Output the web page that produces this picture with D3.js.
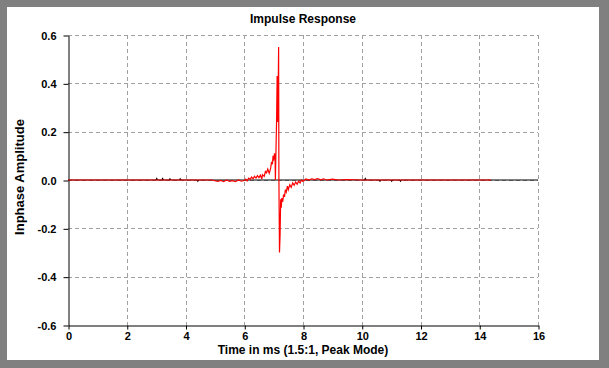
<!DOCTYPE html>
<html>
<head>
<meta charset="utf-8">
<script src="https://cdn.jsdelivr.net/npm/d3@7"></script>
<style>
  body { margin: 0; background: #808080; }
  svg { display: block; font-family: "Liberation Sans", Arial, sans-serif; }
</style>
</head>
<body>
<script>
// axis ticks
var xTicks = [0, 2, 4, 6, 8, 10, 12, 14, 16];
var yTicks = [-0.6, -0.4, -0.2, 0.0, 0.2, 0.4, 0.6];

// red trace (peak mode), time in ms / amplitude
var redTime = [0, 4.9, 5.0, 5.1, 5.2, 5.3, 5.4, 5.5, 5.6, 5.7, 5.8, 5.9, 6.0, 6.05, 6.1, 6.15, 6.2, 6.25, 6.3, 6.35,
  6.4, 6.45, 6.5, 6.55, 6.6, 6.62, 6.68, 6.72, 6.76, 6.8, 6.85, 6.88, 6.9, 6.93, 6.96, 6.98, 7.0, 7.03, 7.05,
  7.06, 7.08, 7.1, 7.12, 7.14, 7.16, 7.17, 7.18, 7.2, 7.22, 7.24, 7.26, 7.28, 7.31, 7.34, 7.37, 7.4, 7.43,
  7.47, 7.5, 7.55, 7.6, 7.65, 7.7, 7.75, 7.8, 7.85, 7.9, 7.95, 8.0, 8.1, 8.2, 8.3, 8.4, 8.5, 8.6, 8.7, 8.8,
  9.0, 9.2, 9.5, 10.0, 14.4];
var redAmp = [0, 0, -0.003, -0.006, -0.002, -0.007, 0.0, -0.006, -0.003, -0.007, 0.0, -0.005, -0.002, 0.004, -0.004, 0.008, 0.003, 0.012, 0.005, 0.015,
  0.008, 0.018, 0.01, 0.02, 0.004, 0.022, 0.015, 0.035, 0.03, 0.045, 0.028, 0.04, 0.05, 0.075, 0.065, 0.1, 0.08, 0.11, 0.09,
  0.0, 0.12, 0.24, 0.43, 0.24, 0.43, 0.55, 0.0, -0.30, -0.226, -0.08, -0.115, -0.075, -0.09, -0.06, -0.07, -0.04, -0.05,
  -0.025, -0.04, -0.02, -0.03, -0.012, -0.022, -0.008, -0.018, -0.005, -0.012, 0.0, -0.006, 0.004, 0.0, 0.005, 0.002, 0.006, 0.001, 0.005, 0.0,
  0.004, 0.0, 0.002, 0, 0];

// black trace
var blackTime = [0, 3.0, 3.02, 3.05, 3.2, 3.22, 3.25, 3.45, 3.47, 3.5, 3.8, 3.82, 3.85, 4.4, 4.42, 4.45,
  10.1, 10.12, 10.15, 10.6, 10.62, 10.65, 11.0, 11.02, 11.05, 11.3, 11.32, 11.35, 16];
var blackAmp = [0, 0, 0.006, 0, 0, 0.006, 0, 0, 0.005, 0, 0, 0.005, 0, 0, -0.005, 0,
  0, 0.006, 0, 0, -0.005, 0, 0, -0.005, 0, 0, -0.005, 0, 0];

var width = 609, height = 368;
var svg = d3.select("body").append("svg")
  .attr("width", width)
  .attr("height", height);

// frame
svg.append("rect").attr("width", width).attr("height", height).attr("fill", "#808080");
svg.append("rect").attr("x", 7).attr("y", 7).attr("width", 592).attr("height", 353).attr("fill", "#fff");

var x = d3.scaleLinear().domain([0, 16]).range([68, 538]);
var y = d3.scaleLinear().domain([-0.6, 0.6]).range([325, 35]);

// grid
var grid = svg.append("g").attr("stroke", "#a0a0a0").attr("stroke-dasharray", "4,3").attr("shape-rendering", "crispEdges");
grid.selectAll(".vg").data(xTicks.slice(1)).enter().append("line")
  .attr("x1", d => Math.round(x(d)) + 0.5).attr("x2", d => Math.round(x(d)) + 0.5)
  .attr("y1", y(0.6)).attr("y2", y(-0.6));
grid.selectAll(".hg").data(yTicks.slice(1)).enter().append("line")
  .attr("x1", x(0)).attr("x2", x(16))
  .attr("y1", d => Math.round(y(d)) + 0.5).attr("y2", d => Math.round(y(d)) + 0.5);

// axes
var yAxis = d3.axisLeft(y).tickValues(yTicks).tickSize(5).tickSizeOuter(0).tickPadding(7)
  .tickFormat(d => d.toFixed(1));
var xAxis = d3.axisBottom(x).tickValues(xTicks).tickSize(4).tickSizeOuter(0).tickPadding(3)
  .tickFormat(d3.format("d"));

var gy = svg.append("g").attr("transform", "translate(" + (x(0) + 0.5) + ",0.5)").call(yAxis);
var gx = svg.append("g").attr("transform", "translate(0.5," + (y(-0.6) + 0.5) + ")").call(xAxis);
[gy, gx].forEach(function(g) {
  g.select(".domain").attr("stroke", "#000");
  g.selectAll(".tick line").attr("stroke", "#000");
  g.selectAll("text").attr("fill", "#000").style("font-size", "11px").style("font-weight", "bold")
    .style("font-family", "'Liberation Sans', Arial, sans-serif");
});

// traces
var line = d3.line().x(d => x(d[0])).y(d => y(d[1]));
svg.append("path")
  .datum(d3.zip(blackTime, blackAmp))
  .attr("d", line).attr("fill", "none").attr("stroke", "#000").attr("stroke-width", 1.2);
svg.append("path")
  .datum(d3.zip(redTime, redAmp))
  .attr("d", line).attr("fill", "none").attr("stroke", "#ff0000").attr("stroke-width", 1.2);

// titles
svg.append("text").attr("x", 303).attr("y", 23).attr("text-anchor", "middle")
  .style("font-size", "12px").style("font-weight", "bold").text("Impulse Response");
svg.append("text").attr("x", 303).attr("y", 354).attr("text-anchor", "middle")
  .style("font-size", "12px").style("font-weight", "bold").text("Time in ms (1.5:1, Peak Mode)");
svg.append("text").attr("transform", "translate(24,177) rotate(-90)").attr("text-anchor", "middle")
  .style("font-size", "13px").style("font-weight", "bold").text("Inphase Amplitude");
</script>
</body>
</html>
